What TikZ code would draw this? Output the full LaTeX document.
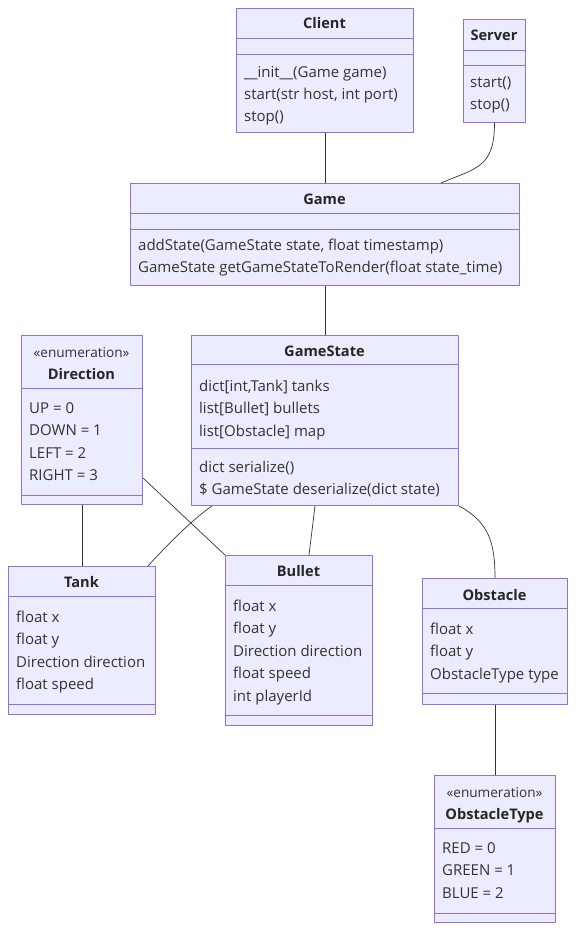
\documentclass[tikz,border=0pt]{standalone}
\usepackage{fontspec}
\setmainfont{Open Sans}
\usepackage{tikz}
\usetikzlibrary{positioning,calc}

\definecolor{umlfill}{HTML}{ECECFF}
\definecolor{umlline}{HTML}{9370DB}
\definecolor{linkgray}{HTML}{333333}
\definecolor{txtgray}{HTML}{333333}

\tikzset{
  cls/.style={draw=umlline,fill=umlfill,line width=1pt,anchor=north west,inner sep=0pt},
  div/.style={draw=umlline,line width=1pt},
  cname/.style={inner sep=0pt,text height=10pt,text depth=0pt,text=black!85,
    font=\fontsize{14.6}{16}\selectfont\bfseries},
  stereo/.style={inner sep=0pt,text height=10pt,text depth=0pt,text=txtgray,
    font=\fontsize{13.6}{16}\selectfont},
  mem/.style={anchor=west,inner sep=0pt,text height=10pt,text depth=0pt,text=txtgray,
    font=\fontsize{15}{16}\selectfont},
  link/.style={draw=linkgray,line width=0.7pt}
}

\begin{document}
\begin{tikzpicture}[x=1pt,y=-1pt,line join=bevel]
\useasboundingbox (0,0) rectangle (583,943);

% class boxes
\node[cls,minimum width=177pt,minimum height=124pt] (client) at (236,8) {};
\node[cls,minimum width=62pt,minimum height=103pt] (server) at (463,19) {};
\node[cls,minimum width=389pt,minimum height=102pt] (game) at (130,183) {};
\node[cls,minimum width=121pt,minimum height=169pt] (direction) at (21,335) {};
\node[cls,minimum width=267pt,minimum height=170pt] (gamestate) at (191,335) {};
\node[cls,minimum width=147pt,minimum height=148pt] (tank) at (8,566) {};
\node[cls,minimum width=147pt,minimum height=170pt] (bullet) at (225,555) {};
\node[cls,minimum width=145pt,minimum height=126pt] (obstacle) at (422,578) {};
\node[cls,minimum width=121pt,minimum height=147pt] (obstacletype) at (434,775) {};

% dividers
\draw[div] ([yshift=-30pt]client.north west) -- ([yshift=-30pt]client.north east);
\draw[div] ([yshift=-46pt]client.north west) -- ([yshift=-46pt]client.north east);
\draw[div] ([yshift=-31pt]server.north west) -- ([yshift=-31pt]server.north east);
\draw[div] ([yshift=-46pt]server.north west) -- ([yshift=-46pt]server.north east);
\draw[div] ([yshift=-30pt]game.north west) -- ([yshift=-30pt]game.north east);
\draw[div] ([yshift=-46pt]game.north west) -- ([yshift=-46pt]game.north east);
\draw[div] ([yshift=-53pt]direction.north west) -- ([yshift=-53pt]direction.north east);
\draw[div] ([yshift=10pt]direction.south west) -- ([yshift=10pt]direction.south east);
\draw[div] ([yshift=-29pt]gamestate.north west) -- ([yshift=-29pt]gamestate.north east);
\draw[div] ([yshift=-113pt]gamestate.north west) -- ([yshift=-113pt]gamestate.north east);
\draw[div] ([yshift=-30pt]tank.north west) -- ([yshift=-30pt]tank.north east);
\draw[div] ([yshift=11pt]tank.south west) -- ([yshift=11pt]tank.south east);
\draw[div] ([yshift=-30pt]bullet.north west) -- ([yshift=-30pt]bullet.north east);
\draw[div] ([yshift=11pt]bullet.south west) -- ([yshift=11pt]bullet.south east);
\draw[div] ([yshift=-30pt]obstacle.north west) -- ([yshift=-30pt]obstacle.north east);
\draw[div] ([yshift=12pt]obstacle.south west) -- ([yshift=12pt]obstacle.south east);
\draw[div] ([yshift=-53pt]obstacletype.north west) -- ([yshift=-53pt]obstacletype.north east);
\draw[div] ([yshift=10pt]obstacletype.south west) -- ([yshift=10pt]obstacletype.south east);

% class names
\node[cname] (client-n) at (324.5,23) {Client};
\node[cname] (server-n) at (494,35) {Server};
\node[cname] (game-n) at (324.5,199) {Game};
\node[stereo] (direction-s) at (81.5,352) {«enumeration»};
\node[cname] (direction-n) at (81.5,374) {Direction};
\node[cname] (gamestate-n) at (324.5,351) {GameState};
\node[cname] (tank-n) at (81.5,582) {Tank};
\node[cname] (bullet-n) at (298.5,571) {Bullet};
\node[cname] (obstacle-n) at (494.5,595) {Obstacle};
\node[stereo] (obstacletype-s) at (494.5,792) {«enumeration»};
\node[cname] (obstacletype-n) at (494.5,814) {ObstacleType};

% members
\foreach \t [count=\i] in {\_\_init\_\_(Game game),{start(str host, int port)},stop()}
  \node[mem] (client-m\i) at (244,72+22.3*\i-22.3) {\t};
\foreach \t [count=\i] in {start(),stop()}
  \node[mem] (server-m\i) at (470,82+22.6*\i-22.6) {\t};
\foreach \t [count=\i] in {{addState(GameState state, float timestamp)},GameState getGameStateToRender(float state\_time)}
  \node[mem] (game-m\i) at (138,245+22.6*\i-22.6) {\t};
\foreach \t [count=\i] in {UP = 0,DOWN = 1,LEFT = 2,RIGHT = 3}
  \node[mem] (direction-m\i) at (29,408+22.6*\i-22.6) {\t};
\foreach \t [count=\i] in {{dict[int,Tank] tanks},list[Bullet] bullets,list[Obstacle] map}
  \node[mem] (gamestate-a\i) at (199,386+22.6*\i-22.6) {\t};
\foreach \t [count=\i] in {dict serialize(),\$ GameState deserialize(dict state)}
  \node[mem] (gamestate-m\i) at (199,467+22.6*\i-22.6) {\t};
\foreach \t [count=\i] in {float x,float y,Direction direction,float speed}
  \node[mem] (tank-m\i) at (16,617+22.6*\i-22.6) {\t};
\foreach \t [count=\i] in {float x,float y,Direction direction,float speed,int playerId}
  \node[mem] (bullet-m\i) at (233,606+22.6*\i-22.6) {\t};
\foreach \t [count=\i] in {float x,float y,ObstacleType type}
  \node[mem] (obstacle-m\i) at (430,629+22.6*\i-22.6) {\t};
\foreach \t [count=\i] in {RED = 0,GREEN = 1,BLUE = 2}
  \node[mem] (obstacletype-m\i) at (442,848+22.6*\i-22.6) {\t};

% relations
\draw[link] (client.south) -- (game.north);
\draw[link] (server.south) .. controls +(0,45) and +(35,-15) .. ([xshift=116pt]game.north);
\draw[link] (game.south) -- (gamestate.north);
\draw[link] (direction.south) -- (tank.north);
\draw[link] ([yshift=27pt]direction.south east) -- (bullet.north west);
\draw[link] ([xshift=21pt]gamestate.south west) .. controls +(-18,12) and +(18,-20) .. ([xshift=-8pt]tank.north east);
\draw[link] ([xshift=-10pt]gamestate.south) -- ([xshift=10pt]bullet.north);
\draw[link] (gamestate.south east) .. controls +(30,16) and +(0,-35) .. (obstacle.north);
\draw[link] (obstacle.south) -- (obstacletype.north);
\end{tikzpicture}
\end{document}
